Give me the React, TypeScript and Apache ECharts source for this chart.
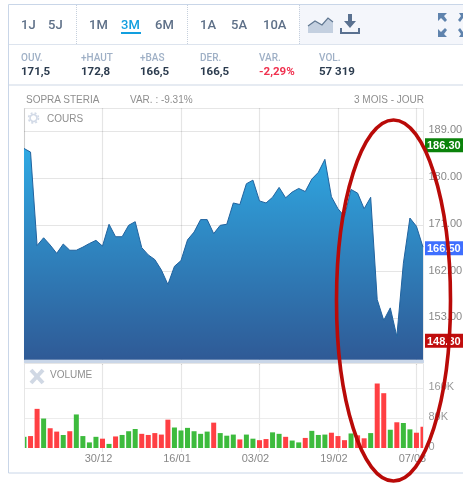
import React, { useEffect, useRef } from "react";
import * as echarts from "echarts";

const dates = [
  "10/12","11/12","12/12","13/12","16/12","17/12","18/12","19/12","20/12","23/12","24/12","27/12",
  "30/12","31/12","02/01","03/01","06/01","07/01","08/01","09/01","10/01","13/01","14/01","15/01",
  "16/01","17/01","20/01","21/01","22/01","23/01","24/01","27/01","28/01","29/01","30/01","31/01",
  "03/02","04/02","05/02","06/02","07/02","10/02","11/02","12/02","13/02","14/02","17/02","18/02",
  "19/02","20/02","21/02","24/02","25/02","26/02","27/02","28/02","03/03","04/03","05/03","06/03",
  "07/03","10/03",
];
const prices = [
  185.7,185.0,167.0,168.5,167.1,165.5,167.3,166.1,166.1,166.7,167.4,168.0,
  166.9,171.1,168.7,168.7,170.9,171.6,166.6,165.2,164.3,162.3,159.5,163.0,
  164.1,168.1,169.6,172.0,172.0,169.3,170.9,171.1,175.2,174.9,178.9,179.6,
  175.6,175.2,176.3,178.2,176.2,177.3,178.0,177.4,179.8,181.1,183.6,176.4,
  174.1,172.6,177.8,177.1,174.1,176.3,156.6,152.6,155.0,149.5,163.6,172.3,
  170.7,166.7,
];
const volumes = [
  30,32,105,79,53,44,35,45,90,32,15,30,
  25,11,31,35,45,51,38,35,40,36,76,55,
  47,54,45,38,44,68,40,33,36,23,36,25,
  21,24,42,38,30,20,15,27,46,35,36,41,
  32,21,39,34,26,40,173,147,49,69,67,50,
  41,57,
];
const directions = [
  "g","r","r","g","r","r","g","r","g","g","g","g",
  "r","g","r","g","g","g","r","r","r","r","r","g",
  "g","g","g","g","g","r","g","g","g","r","g","g",
  "r","r","g","g","r","g","g","r","g","g","g","r",
  "r","r","g","r","r","g","r","r","g","r","g","g",
  "r","r",
];
const priceTags = [
  { value: 186.3, text: "186.30", color: "#0a820a", shift: 0 },
  { value: 166.5, text: "166.50", color: "#3f6fff", shift: 0 },
  { value: 148.3, text: "148.30", color: "#c00d0d", shift: -2 },
];
const rangeButtons = [
  { t: "1J", x: 21 }, { t: "5J", x: 48 }, { t: "1M", x: 89 }, { t: "3M", x: 121 }, { t: "6M", x: 155 },
  { t: "1A", x: 200 }, { t: "5A", x: 231 }, { t: "10A", x: 263 },
];
const stats = [
  { k: "OUV.", v: "171,5", x: 21 }, { k: "+HAUT", v: "172,8", x: 81 }, { k: "+BAS", v: "166,5", x: 140 },
  { k: "DER.", v: "166,5", x: 200 }, { k: "VAR.", v: "-2,29%", x: 259 }, { k: "VOL.", v: "57 319", x: 319 },
];

const SANS = '"Liberation Sans", Arial, sans-serif';
const GRID = "rgba(0,0,0,0.1)";
const every12 = (i: number) => i % 12 === 0;

const txt = (text: string, x: number, y: number, fontSize: number, fill: string, extra: any = {}) => ({
  type: "text", x, y, z: 6,
  style: { text, fontSize, fill, fontFamily: extra.family || "Roboto", fontWeight: extra.weight || 400, align: extra.align || "left", verticalAlign: "middle" },
});
const arrow = (points: number[][]) => ({ type: "polygon", z: 6, shape: { points }, style: { fill: "#5f83ad" } });
const bar = (x1: number, y1: number, x2: number, y2: number, stroke: string, lineWidth: number, z = 6, lineDash?: number[]) => ({
  type: "line", z, shape: { x1, y1, x2, y2 }, style: { stroke, lineWidth, lineDash },
});

export default function App() {
  const ref = useRef<HTMLDivElement>(null);
  useEffect(() => {
    const chart = echarts.init(ref.current!, null, { renderer: "svg" });
    const graphics: any[] = [
      { type: "rect", z: 0, shape: { x: 299, y: 5, width: 164, height: 39 }, style: { fill: "#f4f6fb" } },
      { type: "rect", z: 1, shape: { x: 8.5, y: 4.5, width: 470, height: 468.5 }, style: { fill: "none", stroke: "#c9d6e8", lineWidth: 1 } },
      bar(9, 44.5, 463, 44.5, "#dde4ee", 1),
      bar(9, 85, 463, 85, "#e6ebf2", 2),
      bar(76.5, 5, 76.5, 44, "#c6d0dd", 1, 6, [1, 1]),
      bar(187.5, 5, 187.5, 44, "#c6d0dd", 1, 6, [1, 1]),
      bar(299.5, 5, 299.5, 44, "#c6d0dd", 1, 6, [1, 1]),
      ...rangeButtons.map((b) => txt(b.t, b.x, 24, 13, b.t === "3M" ? "#129fdf" : "#5e7088", { weight: 500 })),
      bar(121, 33, 141, 33, "#129fdf", 2),
      ...stats.flatMap((s) => [
        txt(s.k, s.x, 57, 10, "#9fb0c6", { weight: 500 }),
        txt(s.v, s.x, 70.5, 11.5, s.k === "VAR." ? "#f0314f" : "#2b3b4e", { weight: 700 }),
      ]),
      { type: "polygon", z: 6, shape: { points: [[308, 33], [308, 26], [315, 21], [322, 25], [328, 18], [333, 22], [333, 33]] }, style: { fill: "#c4d0e0" } },
      { type: "polyline", z: 6, shape: { points: [[308, 26], [315, 21], [322, 25], [328, 18], [333, 22]] }, style: { stroke: "#5f7690", lineWidth: 1.2, fill: "none" } },
      { type: "polyline", z: 6, shape: { points: [[341, 28], [341, 33], [359, 33], [359, 28]] }, style: { stroke: "#5a7190", lineWidth: 2, fill: "none" } },
      { type: "polygon", z: 6, shape: { points: [[348, 14], [352, 14], [352, 21], [356, 21], [350, 28], [344, 21], [348, 21]] }, style: { fill: "#5a7190" } },
      arrow([[438, 13], [447, 13], [444, 16], [447, 20], [445, 22], [441, 18], [438, 21]]),
      arrow([[463, 13], [459, 13], [461, 16], [458, 20], [460, 22], [463, 18]]),
      arrow([[438, 37], [447, 37], [444, 34], [447, 30], [445, 28], [441, 32], [438, 29]]),
      arrow([[463, 37], [459, 37], [461, 34], [458, 30], [460, 28], [463, 32]]),
      txt("SOPRA STERIA", 26, 99, 10, "#8f8f8f", { family: SANS }),
      txt("VAR. : -9.31%", 130, 99, 10, "#8f8f8f", { family: SANS }),
      txt("3 MOIS - JOUR", 424, 99, 10, "#8f8f8f", { family: SANS, align: "right" }),
      { type: "polyline", z: 1, shape: { points: [[24.5, 360], [24.5, 108.5], [423.5, 108.5], [423.5, 360]] }, style: { stroke: "#e6e6e6", lineWidth: 1, fill: "none" } },
      { type: "rect", z: 3, shape: { x: 20, y: 364, width: 4, height: 85 }, style: { fill: "#fff" } },
      { type: "rect", z: 3, shape: { x: 424, y: 364, width: 4, height: 85 }, style: { fill: "#fff" } },
      { type: "polyline", z: 4, shape: { points: [[24.5, 448], [24.5, 363.5], [423.5, 363.5], [423.5, 448]] }, style: { stroke: "#e6e6e6", lineWidth: 1, fill: "none" } },
      { type: "rect", z: 8, shape: { x: 24, y: 360, width: 400, height: 3 }, style: { fill: "#c9d6e8" } },
      { type: "circle", z: 6, shape: { cx: 33.5, cy: 118, r: 3.5 }, style: { fill: "none", stroke: "#d2dae7", lineWidth: 1.6 } },
      { type: "circle", z: 6, shape: { cx: 33.5, cy: 118, r: 5 }, style: { fill: "none", stroke: "#d2dae7", lineWidth: 1.6, lineDash: [2, 2] } },
      txt("COURS", 47, 118, 10, "#8f8f8f", { family: SANS }),
      bar(31, 370, 43, 383, "#d0d8e4", 4),
      bar(43, 370, 31, 383, "#d0d8e4", 4),
      txt("VOLUME", 50, 374.5, 10, "#8f8f8f", { family: SANS }),
      { type: "ellipse", z: 100, shape: { cx: 393.5, cy: 300.5, rx: 57, ry: 180.5 }, style: { fill: "none", stroke: "#b90a08", lineWidth: 3.6 } },
    ];
    chart.setOption({
      animation: false,
      backgroundColor: "#fff",
      grid: [
        { left: 24, right: 40, top: 108, height: 257, containLabel: false, outerBoundsMode: "none" },
        { left: 24, right: 40, top: 363, height: 85, containLabel: false, outerBoundsMode: "none" },
      ],
      xAxis: [
        {
          type: "category", gridIndex: 0, data: dates, boundaryGap: false, z: 3,
          axisLine: { show: false }, axisTick: { show: false }, axisLabel: { show: false },
          splitLine: { show: true, interval: every12, lineStyle: { color: GRID, width: 1.2 } },
        },
        {
          type: "category", gridIndex: 1, data: dates, boundaryGap: false, z: 1,
          axisLine: { show: false },
          axisTick: { show: true, length: 4, interval: (i: number) => every12(i) && i > 0, lineStyle: { color: "#e6e6e6" } },
          axisLabel: { interval: (i: number) => every12(i) && i > 0, color: "#888", fontSize: 11, fontFamily: SANS, margin: 4, padding: [0, 8, 0, 0] },
          splitLine: { show: true, interval: (i: number) => every12(i) && i > 0, lineStyle: { color: "#e6e6e6", width: 1.2 } },
        },
      ],
      yAxis: [
        {
          type: "value", gridIndex: 0, position: "right", min: 144, max: 193.49, interval: 9, z: 3,
          axisLine: { show: false }, axisTick: { show: false },
          axisLabel: { color: "#888", fontSize: 11, fontFamily: SANS, margin: 5.5, verticalAlign: "bottom", lineHeight: 4, showMinLabel: false, showMaxLabel: false, formatter: (v: number) => v.toFixed(2) },
          splitLine: { show: true, showMinLine: false, showMaxLine: false, lineStyle: { color: GRID, width: 1.2 } },
        },
        {
          type: "value", gridIndex: 1, position: "right", min: 0, max: 228, interval: 80, z: 1,
          axisLine: { show: false }, axisTick: { show: false },
          axisLabel: { color: "#999", fontSize: 11, fontFamily: SANS, margin: 5.5, verticalAlign: "bottom", lineHeight: 4, showMaxLabel: false, formatter: (v: number) => (v === 0 ? "0" : v + "K") },
          splitLine: { show: true, showMinLine: false, showMaxLine: false, lineStyle: { color: "#ececec", width: 1.2 } },
        },
      ],
      series: [
        {
          type: "line", xAxisIndex: 0, yAxisIndex: 0, data: prices, symbol: "none", silent: true,
          lineStyle: { color: "#21639f", width: 1 },
          areaStyle: {
            origin: 145,
            opacity: 1,
            color: new echarts.graphic.LinearGradient(0, 0, 0, 1, [
              { offset: 0, color: "#2fa9e3" },
              { offset: 1, color: "#2f5a96" },
            ]),
          },
          markLine: {
            silent: true, symbol: "none", animation: false,
            lineStyle: { color: "transparent", width: 1 },
            data: priceTags.map((t) => ({
              yAxis: t.value,
              label: {
                show: true, position: "end", distance: 2, formatter: t.text, color: "#fff", fontSize: 11,
                fontWeight: "bold", fontFamily: SANS, backgroundColor: t.color, padding: [2, 3, 1, 2], offset: [0, t.shift],
              },
            })),
          },
        },
        {
          type: "bar", xAxisIndex: 1, yAxisIndex: 1, barWidth: 5, silent: true, clip: true,
          data: volumes.map((v, i) => ({ value: v, itemStyle: { color: directions[i] === "r" ? "#ff3f43" : "#3dbb3d" } })),
        },
      ],
      graphic: { elements: graphics },
    });
    return () => chart.dispose();
  }, []);
  return <div ref={ref} style={{ position: "absolute", left: 0, top: 0, width: 463, height: 483, filter: "blur(0.35px)" }} />;
}
